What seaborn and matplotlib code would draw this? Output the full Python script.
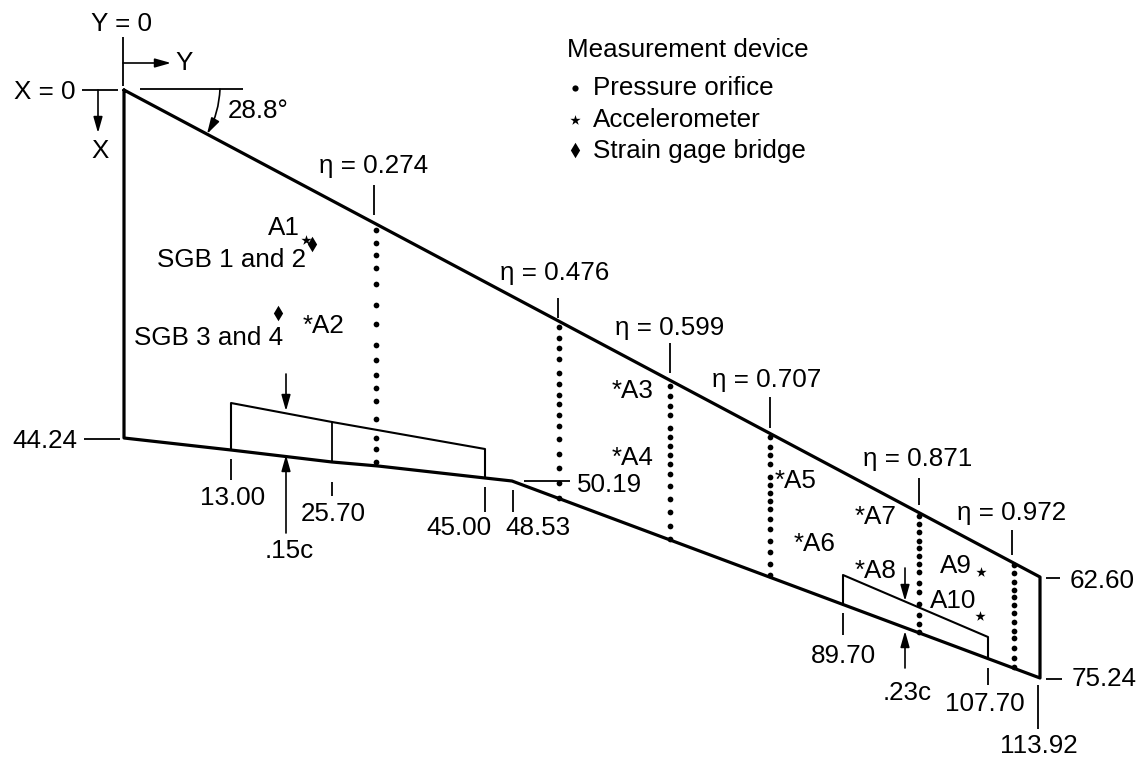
import matplotlib
matplotlib.use("Agg")
import matplotlib.pyplot as plt
import pandas as pd
import seaborn as sns

sns.set_theme(style="white")
plt.rcParams['font.family'] = ['Liberation Sans', 'DejaVu Sans']

# Everything in picture units (x right, y down)
planform_x = [124, 124, 231, 332, 378, 485, 512, 1040, 1040, 124]
planform_y = [90, 438, 450, 462, 466, 478, 481, 678, 577, 90]
inboard_flap_x = [231, 231, 332, 485, 485]
inboard_flap_y = [450, 403, 422, 449, 478]
flap_hinge_x = [332, 332]
flap_hinge_y = [422, 462]
outboard_flap_x = [843, 843, 988, 988]
outboard_flap_y = [605, 575, 637, 659]

thin_segments = [
    ((123, 37), (123, 86)), ((82, 90), (118, 90)), ((140, 89), (243, 89)),
    ((84, 439), (120, 439)), ((231, 459), (231, 480)), ((332, 482), (332, 496)),
    ((485, 487), (485, 512)), ((513, 490), (513, 512)), ((524, 481), (570, 481)),
    ((843, 613), (843, 635)), ((988, 668), (988, 685)), ((1038, 685), (1038, 729)),
    ((1046, 578), (1060, 578)), ((1046, 679), (1062, 679)),
    ((374, 185), (374, 215)), ((558, 298), (558, 318)), ((670, 343), (670, 373)),
    ((770, 397), (770, 428)), ((919, 478), (919, 505)), ((1012, 530), (1012, 555)),
]
arrows = [
    ((123, 63), (171, 63)), ((98, 90), (98, 133)), ((286, 374), (286, 411)),
    ((286, 533), (286, 455)), ((905, 568), (905, 601)), ((905, 668), (905, 631)),
]

station_a = [230, 243, 255, 268, 284, 305, 324, 345, 360, 375, 388, 401, 419, 438, 449, 462]
station_b = [327, 338, 348, 359, 373, 384, 395, 404, 415, 426, 439, 454, 468, 483, 498]
station_c = [386, 396, 406, 415, 428, 437, 446, 455, 464, 474, 486, 499, 512, 526, 539]
station_d = [437, 447, 455, 464, 477, 485, 493, 501, 509, 519, 529, 541, 552, 564, 575]
station_e = [516, 524, 532, 541, 548, 556, 564, 572, 583, 592, 604, 615, 624, 632]
station_f = [565, 573, 582, 590, 597, 605, 613, 622, 631, 638, 648, 658, 667]
orifice_x = (
    [376] * len(station_a) + [559] * len(station_b) + [670] * len(station_c)
    + [770] * len(station_d) + [919] * len(station_e) + [1014] * len(station_f)
)
orifice_y = station_a + station_b + station_c + station_d + station_e + station_f

accel_x = [306, 981, 980, 575]
accel_y = [240, 572, 616, 120]
gage_x = [312, 278, 575]
gage_y = [244, 313, 150]
legend_dot_x = [575]
legend_dot_y = [88]

labels = [
    ("Y = 0", 91, 23), ("Y", 175, 62), ("X = 0", 14, 91), ("X", 91, 150), ("28.8°", 228, 110),
    ("η = 0.274", 319, 165), ("η = 0.476", 500, 272), ("η = 0.599", 615, 327),
    ("η = 0.707", 712, 379), ("η = 0.871", 863, 458), ("η = 0.972", 957, 512),
    ("A1", 268, 227), ("SGB 1 and 2", 157, 259), ("SGB 3 and 4", 134, 337),
    ("*A2", 303, 325), ("*A3", 612, 390), ("*A4", 612, 457), ("*A5", 775, 480),
    ("*A6", 794, 543), ("*A7", 855, 516), ("*A8", 855, 570), ("A9", 940, 565), ("A10", 930, 600),
    ("44.24", 12, 440), ("13.00", 200, 497), ("25.70", 301, 513), (".15c", 265, 550),
    ("45.00", 426, 527), ("48.53", 505, 527), ("50.19", 577, 484),
    ("89.70", 811, 655), (".23c", 883, 692), ("107.70", 945, 703), ("113.92", 1000, 745),
    ("62.60", 1070, 580), ("75.24", 1072, 678),
    ("Measurement device", 567, 49), ("Pressure orifice", 593, 87),
    ("Accelerometer", 593, 119), ("Strain gage bridge", 593, 150),
]

fig = plt.figure(figsize=(11.43, 7.62), dpi=100, facecolor="white")
ax = fig.add_axes([0, 0, 1, 1])
ax.set_xlim(0, 1143)
ax.set_ylim(762, 0)
ax.axis("off")

outline = pd.DataFrame({"x": planform_x, "y": planform_y})
sns.lineplot(data=outline, x="x", y="y", sort=False, estimator=None, color="black", lw=2.3, ax=ax)
ax.plot(inboard_flap_x, inboard_flap_y, color="black", lw=1.5)
ax.plot(flap_hinge_x, flap_hinge_y, color="black", lw=1.3)
ax.plot(outboard_flap_x, outboard_flap_y, color="black", lw=1.5)

for a, b in thin_segments:
    ax.plot([a[0], b[0]], [a[1], b[1]], color="black", lw=1.3, solid_capstyle="butt")
head = "-|>,head_length=0.6,head_width=0.17"
for a, b in arrows:
    ax.annotate("", xy=b, xytext=a,
                arrowprops=dict(arrowstyle=head, color="black", lw=1.2,
                                shrinkA=0, shrinkB=0, mutation_scale=16))
ax.annotate("", xy=(207, 134), xytext=(220, 89),
            arrowprops=dict(arrowstyle=head, color="black", lw=1.2,
                            shrinkA=0, shrinkB=0, mutation_scale=16,
                            connectionstyle="arc3,rad=-0.12"))

sns.scatterplot(x=orifice_x, y=orifice_y, color="black", s=17, marker="o", linewidth=0, ax=ax, legend=False)
sns.scatterplot(x=legend_dot_x, y=legend_dot_y, color="black", s=20, marker="o", linewidth=0, ax=ax, legend=False)
sns.scatterplot(x=accel_x, y=accel_y, color="black", s=60, marker="*", linewidth=0, ax=ax, legend=False)
sns.scatterplot(x=gage_x, y=gage_y, color="black", s=62, marker="d", linewidth=0, ax=ax, legend=False)
ax.set_xlim(0, 1143)
ax.set_ylim(762, 0)

for text, x, y in labels:
    ax.text(x, y + 1, text, fontsize=18.7, color="black", ha="left", va="center")

fig.savefig("out.png", dpi=100, facecolor="white")
